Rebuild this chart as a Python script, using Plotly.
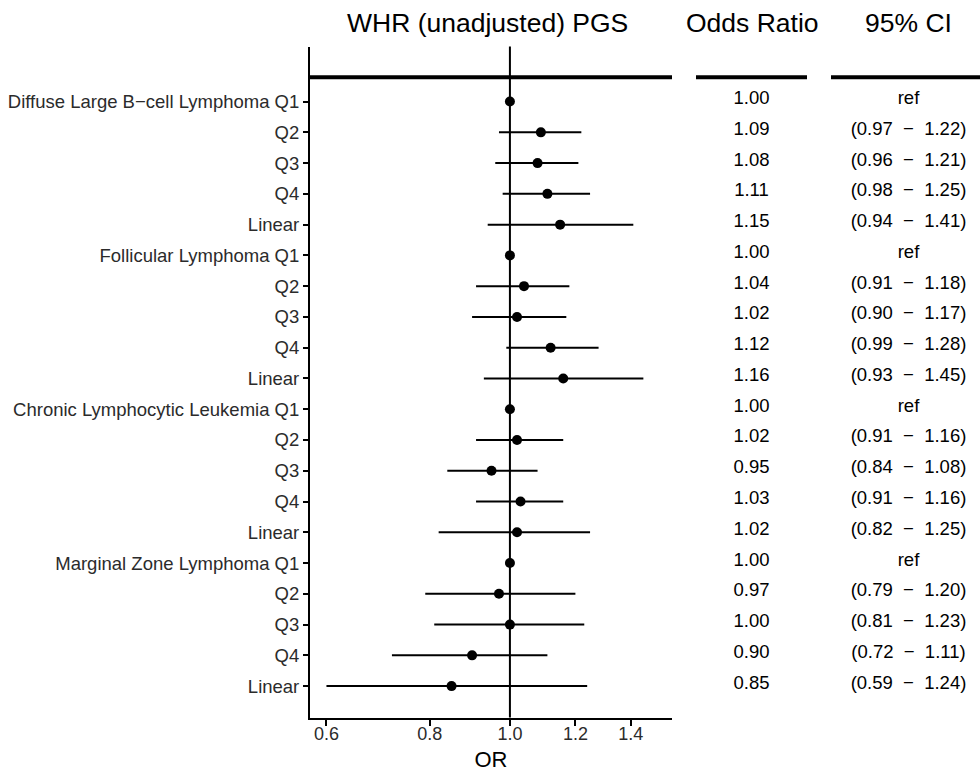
import plotly.graph_objects as go
import math

# ---------------- data ----------------
row_labels = [
    "Diffuse Large B\u2212cell Lymphoma Q1", "Q2", "Q3", "Q4", "Linear",
    "Follicular Lymphoma Q1", "Q2", "Q3", "Q4", "Linear",
    "Chronic Lymphocytic Leukemia Q1", "Q2", "Q3", "Q4", "Linear",
    "Marginal Zone Lymphoma Q1", "Q2", "Q3", "Q4", "Linear",
]
odds_ratio = [1.00, 1.09, 1.08, 1.11, 1.15,
              1.00, 1.04, 1.02, 1.12, 1.16,
              1.00, 1.02, 0.95, 1.03, 1.02,
              1.00, 0.97, 1.00, 0.90, 0.85]
ci_lower = [None, 0.97, 0.96, 0.98, 0.94,
            None, 0.91, 0.90, 0.99, 0.93,
            None, 0.91, 0.84, 0.91, 0.82,
            None, 0.79, 0.81, 0.72, 0.59]
ci_upper = [None, 1.22, 1.21, 1.25, 1.41,
            None, 1.18, 1.17, 1.28, 1.45,
            None, 1.16, 1.08, 1.16, 1.25,
            None, 1.20, 1.23, 1.11, 1.24]
x_tick_values = [0.6, 0.8, 1.0, 1.2, 1.4]
x_tick_labels = ["0.6", "0.8", "1.0", "1.2", "1.4"]
x_limits = (0.6, 1.5)   # scale limits; out-of-range CI ends are squished

title_plot = "WHR (unadjusted) PGS"
title_or = "Odds Ratio"
title_ci = "95% CI"
x_title = "OR"

# ---------------- derived ----------------
W, H = 980, 775
rows = list(range(1, len(row_labels) + 1))

def sq(v):
    return min(max(v, x_limits[0]), x_limits[1])

SEP = "\u00a0\u00a0\u2212\u00a0\u00a0"
err_plus, err_minus, or_text, ci_text = [], [], [], []
for o, lo, hi in zip(odds_ratio, ci_lower, ci_upper):
    or_text.append(f"{o:.2f}")
    if lo is None:
        err_plus.append(0)
        err_minus.append(0)
        ci_text.append("ref")
    else:
        err_plus.append(sq(hi) - o)
        err_minus.append(o - sq(lo))
        ci_text.append(f"({lo:.2f}{SEP}{hi:.2f})")

llo, lhi = math.log10(x_limits[0]), math.log10(x_limits[1])
pad = 0.05 * (lhi - llo)
x_range = [llo - pad, lhi + pad]

def px(x):
    return x / W

def py(y):
    return 1 - y / H

FONT = "Liberation Sans, Arial, sans-serif"
y_range = [21.02, -0.79]
header_line_y = 0.21
text_row_shift = 0.07   # table text sits slightly above the row centre

fig = go.Figure()

fig.add_trace(go.Scatter(
    x=odds_ratio, y=rows, mode="markers",
    marker=dict(color="black", size=10),
    error_x=dict(type="data", symmetric=False, array=err_plus,
                 arrayminus=err_minus, color="black", thickness=2, width=0),
    xaxis="x", yaxis="y", showlegend=False, hoverinfo="skip",
))

text_rows = [r - text_row_shift for r in rows]
fig.add_trace(go.Scatter(
    x=[0.5] * len(rows), y=text_rows, mode="text", text=or_text,
    textfont=dict(family=FONT, size=18.5, color="black"),
    xaxis="x2", yaxis="y", showlegend=False, hoverinfo="skip",
))
fig.add_trace(go.Scatter(
    x=[0.5] * len(rows), y=text_rows, mode="text", text=ci_text,
    textfont=dict(family=FONT, size=18.5, color="black"),
    xaxis="x3", yaxis="y", showlegend=False, hoverinfo="skip",
))

fig.update_layout(
    width=W, height=H,
    margin=dict(l=0, r=0, t=0, b=0),
    paper_bgcolor="white", plot_bgcolor="white",
    font=dict(family=FONT, color="black"),
    hovermode=False,
    xaxis=dict(
        type="log", range=x_range, domain=[px(310), px(672)], anchor="y",
        tickvals=x_tick_values, ticktext=x_tick_labels,
        ticks="outside", ticklen=6, tickwidth=1.5, tickcolor="black",
        ticklabelstandoff=-7,
        showline=True, linewidth=2, linecolor="black",
        showgrid=False, zeroline=False,
        tickfont=dict(size=18, color="#2b2b2b"),
        title=dict(text=x_title, font=dict(size=22, color="black"), standoff=9),
    ),
    yaxis=dict(
        range=y_range, domain=[py(717.5), py(46.5)], anchor="x",
        tickvals=rows, ticktext=row_labels,
        ticks="outside", ticklen=5, tickwidth=1.5, tickcolor="black",
        showline=True, linewidth=2, linecolor="black",
        showgrid=False, zeroline=False,
        tickfont=dict(size=18.5, color="#2b2b2b"),
    ),
    xaxis2=dict(domain=[px(696), px(807)], range=[0, 1], anchor="y",
                visible=False, fixedrange=True),
    xaxis3=dict(domain=[px(837), px(980)], range=[0, 1], anchor="y",
                visible=False, fixedrange=True),
)

# reference line at OR = 1
fig.add_shape(type="line", xref="x", yref="y domain", x0=1, x1=1, y0=0, y1=1,
              line=dict(color="black", width=2))
# thick header rules
fig.add_shape(type="line", xref="x domain", yref="y", x0=0, x1=1,
              y0=header_line_y, y1=header_line_y, line=dict(color="black", width=4))
fig.add_shape(type="line", xref="paper", yref="y", x0=px(696), x1=px(807),
              y0=header_line_y, y1=header_line_y, line=dict(color="black", width=4))
fig.add_shape(type="line", xref="paper", yref="y", x0=px(831), x1=px(980),
              y0=header_line_y, y1=header_line_y, line=dict(color="black", width=4))

for txt, xc in [(title_plot, 487), (title_or, 752), (title_ci, 908)]:
    fig.add_annotation(text=txt, xref="paper", yref="paper", x=px(xc), y=py(23),
                       xanchor="center", yanchor="middle", showarrow=False,
                       font=dict(size=26.5, color="black", family=FONT))

fig.write_html(
    "out.html",
    config={"displayModeBar": False},
    post_script="document.body.style.margin='0';document.body.style.overflow='hidden';",
)
